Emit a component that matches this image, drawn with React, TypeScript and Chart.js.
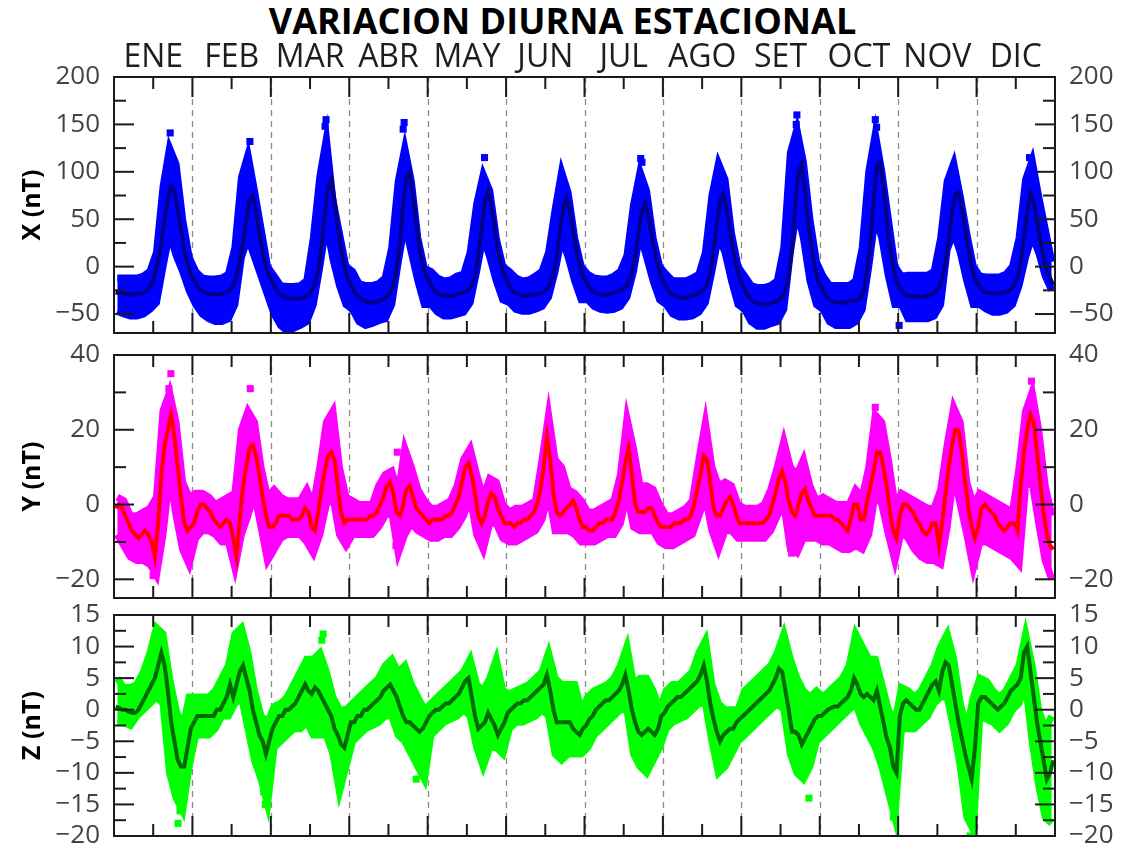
import React, { useEffect, useRef } from "react";
import { Chart, registerables } from "chart.js";

Chart.register(...registerables);

const MONTHS = ["ENE", "FEB", "MAR", "ABR", "MAY", "JUN", "JUL", "AGO", "SET", "OCT", "NOV", "DIC"];
const MONTH_BOUNDS = [1, 2, 3, 4, 5, 6, 7, 8, 9, 10, 11];
const MONTH_MIDS = [0.5, 1.5, 2.5, 3.5, 4.5, 5.5, 6.5, 7.5, 8.5, 9.5, 10.5, 11.5];

// ---------- X component (nT): hourly means (24 per month) ----------
const X_MEAN = [
  [-27, -28, -28, -29, -29, -30, -29, -28, -28, -27, -24, -18, -8, 5, 25, 50, 72, 85, 80, 60, 38, 18, 3, -8],
  [-15, -20, -24, -27, -28, -29, -29, -29, -29, -28, -27, -25, -20, -10, 5, 25, 50, 72, 75, 58, 35, 15, 0, -10],
  [-16, -23, -28, -31, -33, -34, -34, -34, -34, -33, -32, -30, -26, -18, -3, 20, 55, 85, 92, 70, 42, 18, 0, -12],
  [-18, -26, -31, -34, -36, -37, -38, -38, -37, -36, -34, -32, -28, -20, -2, 25, 65, 95, 100, 75, 45, 20, 2, -10],
  [-16, -23, -27, -29, -30, -31, -31, -31, -30, -29, -28, -27, -25, -20, -10, 10, 40, 68, 80, 65, 40, 18, 2, -10],
  [-16, -23, -27, -29, -30, -31, -31, -30, -30, -29, -28, -26, -24, -18, -8, 10, 38, 62, 72, 60, 38, 18, 2, -10],
  [-16, -22, -26, -28, -29, -30, -30, -29, -28, -27, -26, -24, -22, -16, -6, 10, 35, 58, 67, 55, 35, 16, 0, -12],
  [-18, -25, -29, -31, -32, -33, -33, -32, -31, -30, -29, -27, -24, -18, -6, 15, 45, 70, 76, 60, 38, 16, 0, -12],
  [-20, -28, -33, -36, -38, -39, -40, -40, -39, -38, -37, -35, -32, -25, -8, 20, 65, 100, 108, 80, 45, 18, 0, -15],
  [-22, -29, -33, -36, -37, -38, -38, -38, -37, -36, -36, -35, -33, -25, -5, 25, 70, 105, 110, 85, 50, 20, 0, -15],
  [-22, -28, -30, -31, -31, -32, -32, -32, -31, -30, -29, -27, -22, -12, 5, 30, 58, 76, 78, 62, 40, 18, 0, -12],
  [-18, -24, -27, -28, -28, -28, -28, -28, -27, -26, -24, -20, -12, 5, 30, 58, 77, 68, 48, 28, 10, -2, -12, -20],
];
// spread of daily values, 2-hour bins (12 per month)
const X_LO = [
  [-47, -50, -52, -52, -50, -45, -38, 0, 35, 12, -5, -25],
  [-40, -50, -55, -58, -58, -55, -40, 10, 30, 10, -10, -30],
  [-50, -62, -68, -65, -62, -58, -40, 0, 45, 8, -20, -40],
  [-45, -58, -62, -60, -57, -55, -40, 5, 45, 15, -15, -40],
  [-40, -48, -52, -52, -50, -48, -38, -5, 32, 10, -15, -35],
  [-38, -45, -47, -47, -45, -42, -32, -5, 30, 10, -15, -35],
  [-35, -42, -45, -46, -45, -42, -32, -5, 35, 10, -15, -35],
  [-40, -50, -53, -53, -52, -48, -38, -5, 32, 15, -15, -40],
  [-45, -58, -63, -63, -60, -58, -45, 15, 60, 30, -15, -40],
  [-45, -58, -62, -62, -62, -58, -45, 0, 53, 30, -10, -40],
  [-40, -55, -55, -55, -55, -52, -40, 18, 36, 15, -15, -40],
  [-40, -45, -48, -48, -46, -40, -20, 10, 32, 15, -10, -25],
];
const X_HI = [
  [-12, -12, -12, -12, -10, -5, 15, 84, 125, 108, 50, 10],
  [-5, -12, -13, -13, -12, -8, 20, 94, 118, 80, 40, 0],
  [-10, -20, -21, -21, -20, -15, 30, 95, 135, 70, 35, 0],
  [-5, -18, -20, -20, -18, -12, 20, 90, 125, 90, 30, -2],
  [-5, -12, -15, -14, -10, -8, 15, 66, 97, 80, 30, 0],
  [-5, -12, -15, -14, -10, -5, 15, 60, 100, 78, 30, 0],
  [-8, -12, -13, -13, -10, -5, 12, 65, 100, 80, 30, 0],
  [-8, -15, -15, -15, -12, -8, 15, 75, 109, 92, 35, 0],
  [-10, -20, -22, -22, -20, -15, 20, 120, 145, 110, 50, 5],
  [-10, -20, -20, -20, -20, -15, 20, 100, 140, 100, 50, 0],
  [-10, -9, -9, -9, -9, -5, 30, 90, 109, 74, 35, 0],
  [-10, -11, -11, -11, -8, 0, 30, 92, 112, 74, 40, 5],
];
// isolated points: [month index, hour, value]
const X_OUT = [
  [0, 17.2, 141], [1, 17.6, 132], [2, 16.9, 155], [2, 16.6, 148], [3, 16.8, 152], [3, 16.5, 145],
  [4, 17.4, 115], [6, 17.2, 114], [6, 17.6, 110], [8, 17.0, 160], [8, 16.8, 150], [9, 17.0, 155],
  [9, 17.4, 147], [10, 0.3, -62], [11, 16.2, 115],
];

// ---------- Y component (nT) ----------
const Y_MEAN = [
  [-1, 0, -1, -3, -5, -7, -8, -9, -8, -7, -8, -10, -14, -5, 8, 16, 20, 24, 18, 10, 2, -5, -7, -6],
  [-5, -2, 0, 0, -1, -2, -4, -5, -6, -5, -4, -5, -9, -14, -4, 5, 10, 15, 16, 13, 8, 2, -3, -6],
  [-6, -5, -3, -3, -3, -3, -4, -4, -4, -3, -1, -2, -6, -7, -2, 4, 9, 13, 14, 12, 5, -2, -5, -4],
  [-4, -4, -4, -4, -4, -4, -3, -3, -2, 0, 2, 5, 6, 3, -2, -3, 0, 4, 5, 2, -1, -2, -3, -4],
  [-5, -4, -4, -4, -4, -3, -3, -2, 0, 2, 6, 10, 11, 8, 3, -3, -5, -3, 1, 3, 2, -1, -3, -5],
  [-5, -5, -6, -5, -5, -4, -4, -3, -2, 0, 4, 10, 18, 12, 3, -2, -3, -2, -1, 0, 1, -1, -4, -6],
  [-6, -7, -7, -6, -5, -5, -4, -4, -4, -2, 1, 6, 11, 15, 8, 0, -2, -2, -2, -1, -1, -3, -5, -6],
  [-6, -6, -6, -5, -5, -5, -4, -4, -3, 0, 4, 8, 13, 12, 6, -1, -3, -3, -1, 1, 2, 0, -3, -5],
  [-5, -5, -5, -5, -5, -5, -5, -4, -3, 0, 3, 7, 9, 6, 1, -2, -3, 0, 3, 4, 1, -1, -3, -3],
  [-3, -3, -3, -3, -4, -4, -5, -6, -7, -4, 0, 0, -4, -4, 1, 5, 9, 14, 14, 10, 5, -2, -7, -9],
  [-3, 0, 0, -1, -2, -4, -5, -7, -8, -7, -5, -5, -11, -5, 3, 10, 16, 20, 20, 14, 6, -1, -6, -9],
  [-6, -1, 0, -1, -2, -3, -5, -6, -7, -6, -5, -5, -7, 5, 14, 20, 24, 22, 14, 6, -2, -8, -11, -12],
];
const Y_LO = [
  [-8, -11, -14, -15, -15, -16, -19, -8, 8, -3, -12, -16],
  [-9, -7, -7, -8, -10, -10, -17, -8, -3, 3, -6, -15],
  [-12, -9, -8, -8, -8, -10, -13, -8, 0, 2, -8, -11],
  [-8, -8, -8, -8, -6, -3, -2, -13, -8, -5, -7, -8],
  [-9, -9, -8, -8, -6, -3, 2, -8, -12, -5, -5, -9],
  [-10, -10, -9, -8, -7, -4, 3, -7, -7, -7, -8, -10],
  [-10, -10, -9, -8, -8, -5, 3, -6, -7, -7, -7, -10],
  [-11, -11, -10, -9, -8, -3, 2, -7, -12, -7, -7, -9],
  [-9, -9, -9, -9, -7, -3, 0, -12, -13, -9, -9, -9],
  [-10, -10, -11, -12, -12, -11, -12, -8, 3, 0, -8, -15],
  [-7, -9, -12, -14, -15, -15, -16, -6, 8, 0, -8, -17],
  [-10, -10, -11, -12, -13, -14, -16, 5, 6, -5, -15, -20],
];
const Y_HI = [
  [2, 1, -3, -3, -2, -1, 2, 25, 30, 22, 6, 2],
  [3, 3, 2, 0, 1, 2, 3, 20, 25, 22, 10, 2],
  [4, 2, 1, 1, 1, 4, 0, 10, 22, 25, 10, 2],
  [1, 0, 0, 0, 5, 8, 9, 3, 15, 10, 4, 1],
  [-1, -1, 0, 1, 5, 12, 15, 8, 2, 7, 6, 0],
  [-2, -1, -1, 0, 1, 12, 24, 12, 10, 4, 3, 1],
  [-2, -2, -1, 0, 1, 8, 23, 15, 5, 5, 4, 0],
  [-3, -3, -2, -1, 1, 12, 22, 10, 5, 6, 5, 0],
  [-1, -1, -1, 0, 4, 10, 17, 10, 8, 12, 5, 1],
  [2, 1, 0, 0, 0, 4, 2, 10, 24, 22, 12, 0],
  [3, 2, 1, 0, -1, -1, 4, 16, 26, 22, 6, 0],
  [3, 2, 1, 0, -1, -2, 10, 25, 30, 20, 5, -3],
];
const Y_OUT = [
  [0, 12.0, -19], [0, 17.4, 35], [0, 16.8, 31], [1, 17.7, 31], [3, 14.3, -11], [3, 14.7, 14],
  [8, 15.4, -13], [9, 17.0, 26], [11, 16.8, 33],
];

// ---------- Z component (nT) ----------
const Z_MEAN = [
  [0.5, 0.3, 0, 0, -0.3, -0.5, -0.5, 0, 1, 2, 3, 4, 5, 7, 9, 7, 3, -2, -5, -8, -9, -9, -6, -3],
  [-2, -1, -1, -1, -1, -1, -1, 0, 0, 1, 2, 4, 2, 4, 6, 7, 5, 3, 0, -2, -4, -5, -7, -5],
  [-3, -2, -1, -1, 0, 0, 0.5, 1, 2, 3, 4, 3, 2.5, 3.5, 3, 2, 1, 0, -1, -3, -4, -5.5, -6, -4],
  [-2, -2, -1, -1, 0, 0, 0.5, 1, 1.5, 2, 3, 3.5, 4, 3, 2, 0.5, -1, -2, -2, -2.5, -3, -3.5, -3, -2],
  [-1, -0.5, 0, 0, 0.5, 1, 1, 1.5, 2, 2.5, 3.5, 4.5, 5, 2, -1, -3, -2.5, -2, -0.5, -1.5, -2.5, -4, -3, -2],
  [-0.5, 0, 0.5, 1, 1, 1.5, 1.5, 2, 2.5, 3, 3.5, 4, 5.5, 3, 0, -2, -2, -2, -2, -2, -3, -3.5, -4, -3],
  [-2.5, -1.5, -1, 0, 0.5, 1, 1.5, 1.5, 2, 2.5, 3, 4, 5.5, 3, 0, -2, -3.5, -4, -3.5, -3, -3.5, -4, -3, -1],
  [-0.5, 0.5, 1, 1.5, 2, 2, 2.5, 3, 3.5, 4, 4.5, 5.5, 7, 4.5, 1, -1.5, -3.5, -5, -4, -3.5, -3, -3, -2, -1.5],
  [-1, -0.5, 0, 0.5, 1, 1.5, 2, 2.5, 3, 4, 5, 6.5, 6, 3, 0, -3.5, -3.5, -4, -5.5, -4.5, -3.5, -2.5, -1.5, -1],
  [-1, -0.5, 0, 0.3, 0.5, 0.5, 1, 1.5, 2, 3, 5, 4, 2.5, 2, 2.5, 2, 1.5, 3, 0.5, -2, -4.5, -6, -9, -10],
  [-1, 1, 1.5, 1, 0.5, 0, 0, 1, 2, 3, 4, 4.5, 3, 6, 7.5, 7, 4, 1, -2, -4.5, -7, -9, -11, -6],
  [1, 2, 2, 1.5, 1, 0.5, 0, 0.5, 1, 2, 3, 3.5, 4, 5, 9, 10, 6, 2, -2, -5, -8, -11, -10, -8],
];
const Z_LO = [
  [-2, -2, -2.5, -1, 0, 1, 2, 1, -10, -14, -16, -9],
  [-4, -4, -4, -3, -1, -1, 1, 2, -3, -8, -11, -15],
  [-6, -5, -4, -3, -3, -2, -4, -4, -4, -7, -13, -9],
  [-5, -4, -3, -2.5, -2, -1, -1, -4, -5, -7, -9, -11],
  [-4, -3, -2, -1.5, -1, 0, -1, -6, -9, -6, -6, -7],
  [-3, -2, -2, -1.5, -1, 0, -1, -7, -8, -7, -7, -7],
  [-6, -4, -3, -2, -1, 0, 0, -7, -9, -10, -8, -6],
  [-3, -2, -1.5, -1, 0, 1, 1, -5, -10, -9, -7, -5],
  [-4, -3, -2, -1, 0, 1, 0, -7, -10, -11, -9, -5],
  [-4, -3, -2, -1, 0, 1, -2, -4, -6, -9, -13, -17],
  [-3, -3, -3, -2, -1, 1, 2, 2, -3, -9, -17, -19],
  [-1, -1.5, -2, -3, -2, 0, 1, 4, -5, -12, -17, -18],
];
const Z_HI = [
  [5, 3.5, 3.5, 4, 6, 9, 13, 12, 5, 0, -3, 2],
  [2, 2, 2, 3, 5, 7, 12, 13, 9, 3, -1, -2],
  [0.5, 1, 2, 4, 6, 8, 8, 9, 6, 2, 0, 0],
  [1, 2, 3, 4, 5, 7, 8, 6, 7, 4, 2, 0],
  [1, 2, 3, 4, 5, 6, 8, 4, 3, 5, 8, 3],
  [2.5, 3, 3.5, 4, 5, 6, 9, 5, 4, 4, 4, 0],
  [2, 3, 3.5, 4, 5, 7, 10, 4, 5, 5, 3, 0],
  [3, 4, 4, 5, 6, 9, 11, 4, 1, 0, 0, 0],
  [3, 4, 5, 6, 7, 9, 12, 8, 5, 3, 2, 3],
  [2, 3, 4, 5, 7, 12, 10, 8, 8, 4, 0, -2],
  [3.5, 3, 2, 3, 5, 7, 10, 12, 8, 1, -3, 2],
  [5, 4.5, 3, 2, 3, 5, 7, 12, 7, 0, -3, -1],
];
const Z_OUT = [
  [0, 19.6, -18], [0, 20.2, -16], [1, 22.3, -15], [1, 21.8, -13], [2, 16.0, 12], [2, 15.6, 11],
  [3, 20.5, -11], [8, 20.7, -14], [10, 22.0, -20], [9, 22.5, -17],
];

// ---------- axis ticks ----------
const X_TICKS = [-50, 0, 50, 100, 150, 200];
const X_MINOR = [-25, 25, 75, 125, 175];
const Y_TICKS = [-20, 0, 20, 40];
const Y_MINOR = [-10, 10, 30];
const Z_TICKS = [-20, -15, -10, -5, 0, 5, 10, 15];
const Z_MINOR = [-17.5, -12.5, -7.5, -2.5, 2.5, 7.5, 12.5];

const FONT = "'Open Sans', 'Noto Sans', sans-serif";
const fmt = (v: number) => (v < 0 ? "\u2212" + Math.abs(v) : String(v));

function hourPoints(rows: number[][]) {
  const pts: { x: number; y: number }[] = [];
  rows.forEach((row, m) => row.forEach((v, h) => pts.push({ x: m + (h + 0.5) / 24, y: v })));
  return pts;
}
function binPoints(rows: number[][]) {
  const pts: { x: number; y: number }[] = [];
  rows.forEach((row, m) => row.forEach((v, k) => pts.push({ x: m + (2 * k + 1) / 24, y: v })));
  return pts;
}
function outPoints(rows: number[][]) {
  return rows.map(([m, h, v]) => ({ x: m + h / 24, y: v }));
}

const framePlugin = {
  id: "frame",
  beforeDatasetsDraw(chart: any) {
    const { ctx, chartArea: a, scales } = chart;
    const xs = scales.x;
    ctx.save();
    ctx.strokeStyle = "#8a8a8a";
    ctx.lineWidth = 1.3;
    ctx.setLineDash([6, 5]);
    for (const b of MONTH_BOUNDS) {
      const px = Math.round(xs.getPixelForValue(b)) + 0.5;
      ctx.beginPath();
      ctx.moveTo(px, a.top);
      ctx.lineTo(px, a.bottom);
      ctx.stroke();
    }
    ctx.restore();
  },
  afterDatasetsDraw(chart: any, _args: any, opts: any) {
    const { ctx, chartArea: a, scales } = chart;
    const xs = scales.x;
    const ys = scales.y;
    ctx.save();
    ctx.strokeStyle = "#1a1a1a";
    ctx.lineWidth = 2;
    const line = (x1: number, y1: number, x2: number, y2: number) => {
      ctx.beginPath();
      ctx.moveTo(x1, y1);
      ctx.lineTo(x2, y2);
      ctx.stroke();
    };
    const tick = (vals: number[], len: number) => {
      for (const v of vals) {
        const py = ys.getPixelForValue(v);
        line(a.left, py, a.left + len, py);
        line(a.right, py, a.right - len, py);
      }
    };
    tick(opts.major, 20);
    tick(opts.minor, 12);
    for (const b of MONTH_BOUNDS) {
      const px = xs.getPixelForValue(b);
      line(px, a.top, px, a.top + 20);
      line(px, a.bottom, px, a.bottom - 20);
    }
    for (const c of MONTH_MIDS) {
      const px = xs.getPixelForValue(c);
      line(px, a.top, px, a.top + 12);
      line(px, a.bottom, px, a.bottom - 12);
    }
    ctx.strokeRect(a.left, a.top, a.right - a.left, a.bottom - a.top);
    ctx.restore();
  },
};

type PanelCfg = {
  mean: number[][];
  lo: number[][];
  hi: number[][];
  out: number[][];
  min: number;
  max: number;
  major: number[];
  minor: number[];
  title: string;
  band: string;
  line: string;
  top: number;
  height: number;
  topH: number;
  bottomH: number;
  months: boolean;
};

const PANELS: PanelCfg[] = [
  {
    mean: X_MEAN, lo: X_LO, hi: X_HI, out: X_OUT, min: -70, max: 200, major: X_TICKS, minor: X_MINOR,
    title: "X (nT)", band: "#0000ff", line: "#00008a", top: 0, height: 380, topH: 77, bottomH: 47, months: true,
  },
  {
    mean: Y_MEAN, lo: Y_LO, hi: Y_HI, out: Y_OUT, min: -25, max: 40, major: Y_TICKS, minor: Y_MINOR,
    title: "Y (nT)", band: "#ff00ff", line: "#ff0000", top: 320, height: 320, topH: 35, bottomH: 42, months: false,
  },
  {
    mean: Z_MEAN, lo: Z_LO, hi: Z_HI, out: Z_OUT, min: -20, max: 15, major: Z_TICKS, minor: Z_MINOR,
    title: "Z (nT)", band: "#00ff00", line: "#006a00", top: 580, height: 300, topH: 35, bottomH: 44, months: false,
  },
];

function Panel({ cfg }: { cfg: PanelCfg }) {
  const ref = useRef<HTMLCanvasElement | null>(null);
  useEffect(() => {
    const tickFont = { family: FONT, size: 26, lineHeight: 1 };
    const yBase = (position: "left" | "right", width: number, withTitle: boolean) => ({
      type: "linear",
      position,
      min: cfg.min,
      max: cfg.max,
      afterBuildTicks: (s: any) => {
        s.ticks = cfg.major.map((v) => ({ value: v }));
      },
      afterFit: (s: any) => {
        s.width = width;
      },
      ticks: {
        callback: (v: any) => fmt(Number(v)),
        font: tickFont,
        color: "#444",
        padding: 0,
        autoSkip: false,
      },
      grid: { display: false, drawTicks: true, tickLength: 14 },
      border: { display: false },
      title: {
        display: withTitle,
        text: cfg.title,
        color: "#000",
        font: { family: FONT, size: 25, weight: "bold", lineHeight: 1.2 },
        padding: { top: 18, bottom: 0 },
      },
    });
    const chart = new Chart(ref.current as HTMLCanvasElement, {
      type: "line",
      data: {
        datasets: [
          {
            data: hourPoints(cfg.mean),
            borderColor: cfg.line,
            borderWidth: 4,
            pointRadius: 0,
            fill: false,
            tension: 0,
          },
          {
            data: outPoints(cfg.out),
            showLine: false,
            pointStyle: "rect",
            pointRadius: 5,
            pointBackgroundColor: cfg.band,
            pointBorderWidth: 0,
            borderColor: cfg.band,
          },
          {
            data: binPoints(cfg.hi),
            borderColor: cfg.band,
            backgroundColor: cfg.band,
            borderWidth: 7,
            pointRadius: 0,
            fill: "+1",
            tension: 0,
          },
          {
            data: binPoints(cfg.lo),
            borderColor: cfg.band,
            borderWidth: 7,
            pointRadius: 0,
            fill: false,
            tension: 0,
          },
        ],
      },
      options: {
        animation: false,
        responsive: false,
        maintainAspectRatio: false,
        events: [],
        layout: { padding: 0 },
        plugins: {
          legend: { display: false },
          tooltip: { enabled: false },
          title: { display: false },
          frame: { major: cfg.major, minor: cfg.minor },
        } as any,
        scales: {
          x: {
            type: "linear",
            position: "bottom",
            min: 0,
            max: 12,
            ticks: { display: false },
            grid: { display: false, drawTicks: false },
            border: { display: false },
            afterFit: (s: any) => {
              s.height = cfg.bottomH;
            },
          },
          xTop: {
            type: "linear",
            position: "top",
            min: 0,
            max: 12,
            afterBuildTicks: (s: any) => {
              s.ticks = MONTH_MIDS.map((v) => ({ value: v }));
            },
            afterFit: (s: any) => {
              s.height = cfg.topH;
            },
            ticks: {
              display: cfg.months,
              callback: (_v: any, i: number) => MONTHS[i],
              font: { family: FONT, size: 32, lineHeight: 1.2 },
              color: "#1e1e1e",
              padding: 0,
              autoSkip: false,
              maxRotation: 0,
              minRotation: 0,
            },
            grid: { display: false, drawTicks: false },
            border: { display: false },
          },
          y: yBase("left", 114, true),
          yRight: yBase("right", 70, false),
        } as any,
      },
      plugins: [framePlugin as any],
    });
    return () => chart.destroy();
  }, [cfg]);
  return (
    <canvas
      ref={ref}
      width={1125}
      height={cfg.height}
      style={{ position: "absolute", left: 0, top: cfg.top, width: 1125, height: cfg.height }}
    />
  );
}

export default function App() {
  return (
    <div
      style={{
        position: "fixed",
        left: 0,
        top: 0,
        width: 1125,
        height: 846,
        overflow: "hidden",
        background: "#ffffff",
      }}
    >
      <div
        style={{
          position: "absolute",
          left: 0,
          top: 1,
          width: 1125,
          textAlign: "center",
          fontFamily: FONT,
          fontWeight: 700,
          fontSize: 36,
          lineHeight: "40px",
          color: "#000",
        }}
      >
        VARIACION DIURNA ESTACIONAL
      </div>
      {PANELS.map((p, i) => (
        <Panel key={i} cfg={p} />
      ))}
    </div>
  );
}
